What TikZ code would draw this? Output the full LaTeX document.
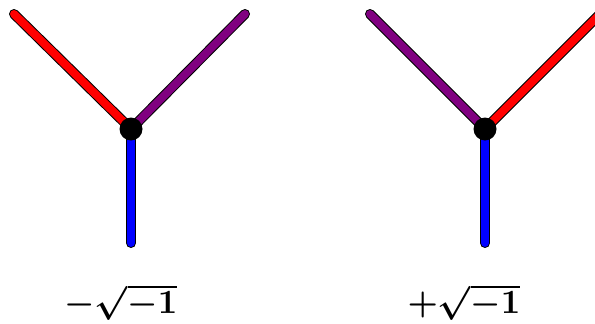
\documentclass[tikz,border=0pt]{standalone}
\usepackage{graphicx}
\definecolor{purp}{RGB}{128,0,128}
\newcommand{\biglbl}[1]{\scalebox{3.4}{\boldmath$#1$}}
\begin{document}
\begin{tikzpicture}[x=1pt,y=-1pt,
  arm/.style={line width=8pt,line cap=round},
  armedge/.style={line width=10pt,line cap=round,black},
  vertex/.style={circle,fill=black,inner sep=0pt,minimum size=23pt},
  lbl/.style={inner sep=0pt}]
\useasboundingbox (0,0) rectangle (595,324);
\begin{scope}
\clip (0,0) rectangle (595,324);
% left
\coordinate (L) at (131,129);
\coordinate (La) at (14,14);
\coordinate (Lb) at (245,14);
\coordinate (Lc) at (131,243);
\draw[armedge] (L) -- (La); \draw[arm,red] (L) -- (La);
\draw[armedge] (L) -- (Lb); \draw[arm,purp] (L) -- (Lb);
\draw[armedge] (L) -- (Lc); \draw[arm,blue] (L) -- (Lc);
\node[vertex] (Lv) at (L) {};
% right
\coordinate (R) at (485,129);
\coordinate (Ra) at (370,14);
\coordinate (Rb) at (600,14);
\coordinate (Rc) at (485,243);
\draw[armedge] (R) -- (Ra); \draw[arm,purp] (R) -- (Ra);
\draw[armedge] (R) -- (Rb); \draw[arm,red] (R) -- (Rb);
\draw[armedge] (R) -- (Rc); \draw[arm,blue] (R) -- (Rc);
\node[vertex] (Rv) at (R) {};
\end{scope}
\node[lbl] (t1) at (121,302) {\biglbl{-\sqrt{-1}}};
\node[lbl] (t2) at (464,302) {\biglbl{+\sqrt{-1}}};
\end{tikzpicture}
\end{document}
